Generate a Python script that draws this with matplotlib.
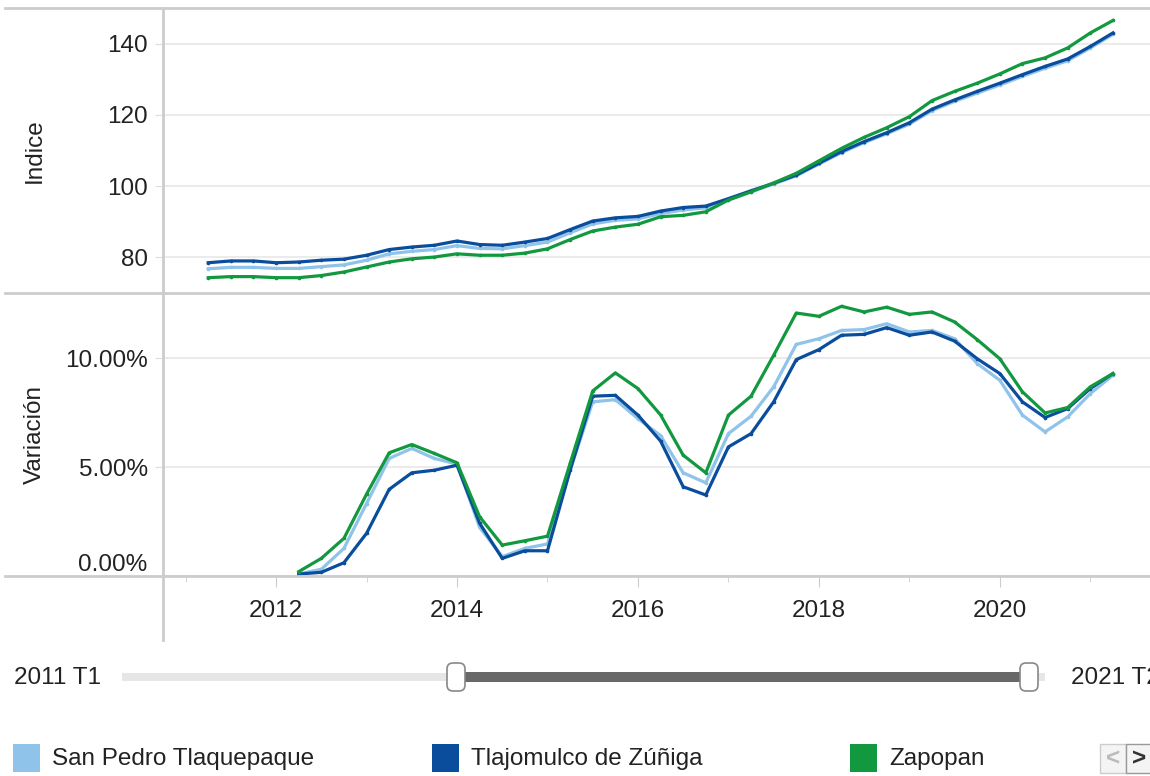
import numpy as np
import matplotlib
matplotlib.use("Agg")
import matplotlib.pyplot as plt
from matplotlib.lines import Line2D
from matplotlib.patches import Rectangle, FancyBboxPatch
from matplotlib.ticker import MultipleLocator, FuncFormatter

plt.rcParams['font.family'] = ['Liberation Sans', 'DejaVu Sans']

# quarters 2011 T2 .. 2021 T2
quarters = [f"{y} T{q}" for y in range(2011, 2022) for q in range(1, 5)][1:42]

series = ["San Pedro Tlaquepaque", "Tlajomulco de Zúñiga", "Zapopan"]
colors = ["#8fc3ea", "#0a4d9c", "#12993f"]

indice_sp = [76.8, 77.2, 77.2, 76.9, 76.9, 77.4, 77.9, 79.2, 81.0, 81.7, 82.2,
             83.3, 82.5, 82.4, 83.3, 84.3, 86.9, 89.4, 90.4, 90.8, 92.3, 93.3,
             93.9, 96.1, 98.4, 100.6, 102.9, 106.2, 109.4, 112.2, 114.7, 117.4,
             121.2, 123.8, 126.1, 128.4, 130.8, 133.1, 135.2, 138.8, 142.6]
indice_tj = [78.5, 79.0, 79.0, 78.5, 78.7, 79.2, 79.5, 80.6, 82.2, 82.9, 83.4,
             84.6, 83.6, 83.4, 84.3, 85.3, 87.8, 90.2, 91.1, 91.5, 93.0, 94.0,
             94.4, 96.5, 98.7, 100.8, 103.1, 106.4, 109.7, 112.5, 115.0, 117.8,
             121.6, 124.2, 126.6, 128.9, 131.3, 133.6, 135.7, 139.2, 143.0]
indice_zp = [74.3, 74.6, 74.6, 74.3, 74.3, 74.9, 75.9, 77.3, 78.7, 79.6, 80.1,
             81.0, 80.6, 80.6, 81.2, 82.4, 85.0, 87.4, 88.5, 89.3, 91.4, 91.8,
             92.8, 96.1, 98.4, 100.9, 103.6, 107.1, 110.6, 113.7, 116.4, 119.5,
             124.0, 126.6, 128.9, 131.5, 134.4, 136.0, 138.8, 143.0, 146.5]

# variacion anual (%) desde 2012 T2
var_sp = [0.09, 0.31, 1.27, 3.33, 5.4, 5.86, 5.4, 5.14, 2.23, 0.89, 1.27, 1.47,
          4.86, 8.0, 8.1, 7.23, 6.45, 4.74, 4.28, 6.54, 7.34, 8.69, 10.64, 10.9,
          11.28, 11.32, 11.59, 11.21, 11.28, 10.9, 9.76, 8.99, 7.39, 6.62, 7.31,
          8.38, 9.22]
var_tj = [0.09, 0.17, 0.61, 1.96, 3.98, 4.74, 4.86, 5.09, 2.42, 0.81, 1.16, 1.16,
          4.86, 8.26, 8.3, 7.39, 6.2, 4.1, 3.72, 5.93, 6.54, 8.0, 9.94, 10.4,
          11.06, 11.1, 11.41, 11.06, 11.21, 10.79, 9.98, 9.3, 8.0, 7.28, 7.69,
          8.61, 9.3]
var_zp = [0.2, 0.81, 1.73, 3.76, 5.66, 6.04, 5.63, 5.2, 2.72, 1.42, 1.62, 1.83,
          5.17, 8.5, 9.33, 8.61, 7.4, 5.55, 4.74, 7.39, 8.26, 10.14, 12.08, 11.93,
          12.39, 12.13, 12.35, 12.02, 12.13, 11.67, 10.86, 9.98, 8.46, 7.49, 7.74,
          8.69, 9.3]

slider_labels = ["2011 T1", "2021 T2"]

x = np.array([int(s[:4]) + (int(s[-1]) - 1) / 4 for s in quarters])
xv = x[4:]

W, H = 1150, 776
fig = plt.figure(figsize=(W / 100, H / 100), dpi=100)
FS = 17.5
TXT = "#222222"
GRID = "#ebebeb"
LINE = "#cccccc"

def fx(px):
    return px / W

def fy(py):
    return 1 - py / H

ax1 = fig.add_axes([fx(163), fy(293), 1 - fx(163), fy(8) - fy(293)])
ax2 = fig.add_axes([fx(163), fy(576), 1 - fx(163), fy(293) - fy(576)])

for vals, c in zip([indice_sp, indice_tj, indice_zp], colors):
    ax1.plot(x, vals, color=c, lw=2.3, marker='o', ms=1.6, solid_joinstyle='round')
for vals, c in zip([var_sp, var_tj, var_zp], colors):
    ax2.plot(xv, vals, color=c, lw=2.3, marker='o', ms=1.6, solid_joinstyle='round')

for ax in (ax1, ax2):
    ax.set_xlim(2010.75, 2021.66)
    for s in ax.spines.values():
        s.set_visible(False)
    ax.grid(axis='y', color=GRID, lw=1.5)
    ax.set_axisbelow(True)
    ax.tick_params(axis='y', length=6, color="#dddddd", labelsize=FS,
                   labelcolor=TXT, pad=5)
    ax.patch.set_alpha(0)

ax1.set_ylim(70, 150)
ax1.set_yticks([80, 100, 120, 140])
ax1.set_xticks([])
ax1.set_ylabel("Indice", fontsize=FS, color=TXT)

ax2.set_ylim(0, 13)
ax2.set_yticks([0, 5, 10])
ax2.yaxis.set_major_formatter(FuncFormatter(lambda v, p: f"{v:.2f}%"))
ax2.set_ylabel("Variación", fontsize=FS, color=TXT)
ax2.xaxis.set_major_locator(MultipleLocator(2))
ax2.xaxis.set_minor_locator(MultipleLocator(1))
ax2.xaxis.set_major_formatter(FuncFormatter(lambda v, p: f"{int(round(v))}"))
ax2.tick_params(axis='x', which='major', length=8, color=LINE, labelsize=FS,
                labelcolor=TXT, pad=9)
ax2.tick_params(axis='x', which='minor', length=4, color=LINE)

for ax in (ax1, ax2):
    ax.yaxis.set_label_coords(fx(46 - 163) / (1 - fx(163)), 0.5)

fig.canvas.draw()
ax2.get_yticklabels()[0].set_verticalalignment('bottom')

# frame lines
for py in (8, 293, 576):
    fig.add_artist(Line2D([fx(5), 1], [fy(py), fy(py)], color=LINE, lw=2))
fig.add_artist(Line2D([fx(163), fx(163)], [fy(8), fy(640)], color=LINE, lw=2))

# controls area in pixel coords
ax3 = fig.add_axes([0, 0, 1, fy(640)])
ax3.set_xlim(0, W)
ax3.set_ylim(H, 640)
ax3.axis('off')

ax3.add_patch(Rectangle((122, 673), 923, 8, color="#e6e6e6", lw=0))
ax3.add_patch(Rectangle((460, 672), 560, 10, color="#686868", lw=0))
for hx in (447, 1020):
    ax3.add_patch(FancyBboxPatch((hx + 4, 667), 10, 20, boxstyle="round,pad=4,rounding_size=6",
                                 fc="white", ec="#888888", lw=1.2, zorder=3))
ax3.text(14, 678, slider_labels[0], fontsize=FS, color=TXT, va='center', ha='left')
ax3.text(1071, 678, slider_labels[1], fontsize=FS, color=TXT, va='center', ha='left')

legend_x = [13, 432, 850]
for lx, name, c in zip(legend_x, series, colors):
    ax3.add_patch(Rectangle((lx, 744), 27, 28, color=c, lw=0))
    ax3.text(lx + 39, 759, name, fontsize=FS, color=TXT, va='center', ha='left')

ax3.add_patch(Rectangle((1100, 744), 26, 29, fc="#f4f4f4", ec="#cccccc", lw=1))
ax3.add_patch(Rectangle((1126, 744), 26, 29, fc="#f4f4f4", ec="#999999", lw=1))
ax3.text(1113, 759, "<", fontsize=FS, color="#bbbbbb", va='center', ha='center', fontweight='bold')
ax3.text(1139, 759, ">", fontsize=FS, color="#333333", va='center', ha='center', fontweight='bold')

fig.savefig("out.png", dpi=100)
